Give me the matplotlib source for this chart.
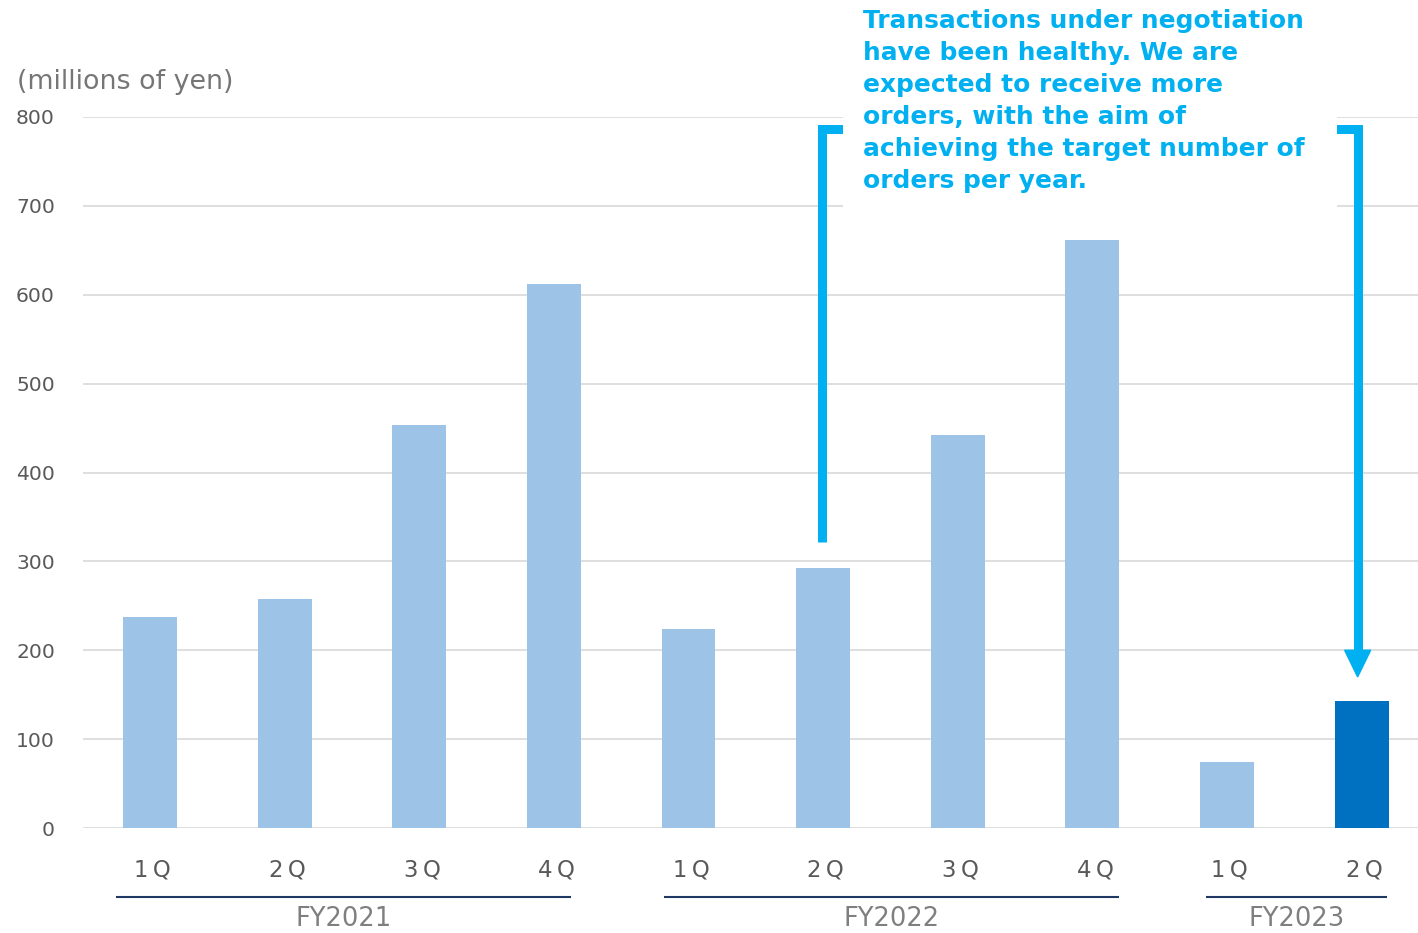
import matplotlib
matplotlib.use("Agg")
import matplotlib.pyplot as plt
from matplotlib import transforms
from matplotlib.patches import Rectangle, Polygon

# Quarterly order values (millions of yen)
quarters = ["1Q", "2Q", "3Q", "4Q", "1Q", "2Q", "3Q", "4Q", "1Q", "2Q"]
fiscal_years = ["FY2021", "FY2022", "FY2023"]
orders = [237, 258, 453, 612, 224, 292, 442, 662, 74, 143]
highlight_index = 9
y_ticks = [0, 100, 200, 300, 400, 500, 600, 700, 800]
unit_label = "(millions of yen)"
note_lines = [
    "Transactions under negotiation",
    "have been healthy. We are",
    "expected to receive more",
    "orders, with the aim of",
    "achieving the target number of",
    "orders per year.",
]

BAR_LIGHT = "#9DC3E6"
BAR_DARK = "#0070C0"
GRID = "#D9D9D9"
NOTE = "#00B0F0"
NAVY = "#203864"

W, H = 1418, 933
fig = plt.figure(figsize=(W / 100, H / 100), dpi=100)
plt.rcParams["font.family"] = ["DejaVu Sans"]

def fx(px):
    return px / W

def fy(py):
    return (H - py) / H

ax = fig.add_axes([fx(82.7), fy(828), fx(1429 - 82.7), (828 - 117) / H])
n = len(orders)
x = list(range(n))
colors = [BAR_DARK if i == highlight_index else BAR_LIGHT for i in x]
ax.bar(x, orders, width=0.40, color=colors, zorder=2)

ax.set_xlim(-0.5, n - 0.5)
ax.set_ylim(0, 800)
ax.set_yticks(y_ticks)
ax.set_yticklabels([str(t) for t in y_ticks], fontsize=14.6, color="#595959")
ax.tick_params(axis="y", length=0, pad=20)
ax.set_xticks([])
for s in ax.spines.values():
    s.set_visible(False)
for t in y_ticks:
    ax.axhline(t, color=GRID, lw=1.2, zorder=0.5)

# Quarter labels under each bar
tx = transforms.blended_transform_factory(ax.transData, fig.transFigure)
for i, q in enumerate(quarters):
    ax.text(i + 0.02, fy(870), q.replace("Q", "\u2009Q"), transform=tx,
            ha="center", va="center", fontsize=16.4, color="#595959",
            clip_on=False)

# Fiscal-year group rules and labels
group_spans = [(-0.25, 3.13), (3.82, 7.195), (7.84, 9.19)]
for fy_label, (x0, x1) in zip(fiscal_years, group_spans):
    ax.plot([x0, x1], [fy(897), fy(897)], transform=tx, color=NAVY, lw=1.5,
            clip_on=False, solid_capstyle="butt")
    ax.text((x0 + x1) / 2, fy(919), fy_label, transform=tx, ha="center",
            va="center", fontsize=18.5, color="#7F7F7F", clip_on=False)

# Unit label
fig.text(fx(17), fy(82), unit_label, ha="left", va="center", fontsize=19.4,
         color="#767676")

# Bracket linking FY2022 2Q to FY2023 2Q
lw_pt = 9 * 72 / 100
ax.plot([4.99, 4.99, 5.3], [322, 786, 786], color=NOTE, lw=lw_pt,
        solid_joinstyle="miter", solid_capstyle="butt", clip_on=False, zorder=3)
ax.plot([8.6, 8.97, 8.97], [786, 786, 198], color=NOTE, lw=lw_pt,
        solid_joinstyle="miter", solid_capstyle="butt", clip_on=False, zorder=3)
head_half_w = 13 / 134.67
ax.add_patch(Polygon([[8.97 - head_half_w, 200], [8.97 + head_half_w, 200],
                      [8.97, 170]], closed=True, color=NOTE, zorder=3,
                     clip_on=False))

# White panel behind the note
ax.add_patch(Rectangle((fx(843), fy(210)), fx(1337 - 843), 1 - fy(210),
                       transform=fig.transFigure, facecolor="white",
                       edgecolor="none", zorder=4, clip_on=False))
for k, line in enumerate(note_lines):
    fig.text(fx(863), fy(28 + 32 * k), line, ha="left", va="baseline",
             fontsize=17.9, fontweight="bold", color=NOTE, zorder=5)

fig.savefig("out.png", dpi=100)
